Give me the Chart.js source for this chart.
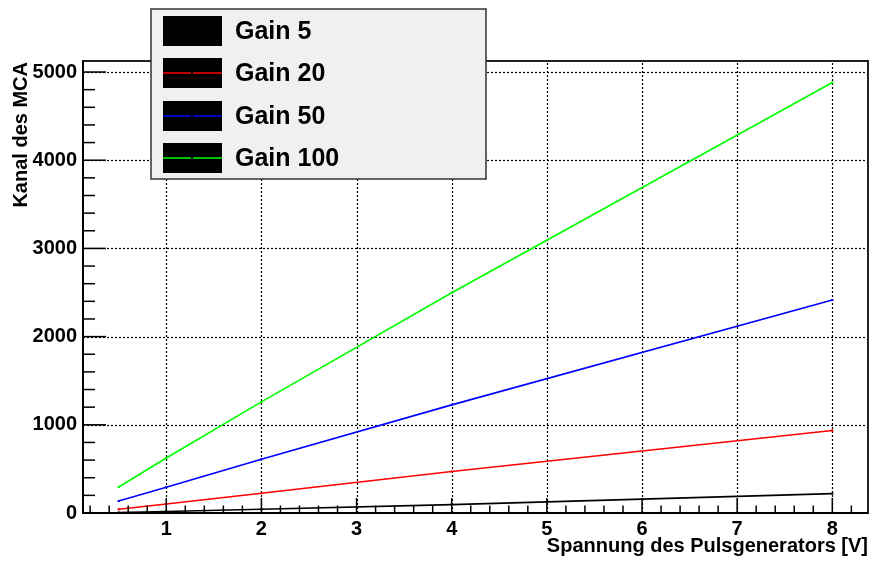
<!DOCTYPE html>
<html>
<head>
<meta charset="utf-8">
<title>Kanal des MCA vs. Spannung</title>
<script src="https://cdn.jsdelivr.net/npm/chart.js@4"></script>
<style>
  html, body { margin: 0; padding: 0; background: #fff; }
  canvas { display: block; }
</style>
</head>
<body>
<canvas id="mca" width="873" height="566"></canvas>
<script>
/* ---- data ---- */
const voltages  = [0.5, 1, 2, 4, 8];            // Spannung des Pulsgenerators [V]
const gain5     = [5, 17, 42, 95, 220];
const gain20    = [42, 102, 224, 470, 935];
const gain50    = [136, 292, 610, 1226, 2414];
const gain100   = [295, 624, 1260, 2497, 4881];

const seriesNames  = ['Gain 5', 'Gain 20', 'Gain 50', 'Gain 100'];
const seriesValues = [gain5, gain20, gain50, gain100];
const seriesColors = ['#000000', '#ff0000', '#0000ff', '#00ff00'];

const xTickValues = [1, 2, 3, 4, 5, 6, 7, 8];
const yTickValues = [0, 1000, 2000, 3000, 4000, 5000];

const X_MIN = 0.125, X_MAX = 8.375;
const Y_MIN = 0,     Y_MAX = 5125;

const FONT = '"Liberation Sans", Arial, Helvetica, sans-serif';

/* ---- ROOT-style frame, grid, ticks, titles and legend ---- */
const rootStyle = {
  id: 'rootStyle',
  beforeDraw(chart) {
    const c = chart.ctx;
    c.save();
    c.fillStyle = '#fff';
    c.fillRect(0, 0, chart.width, chart.height);
    c.restore();
  },
  beforeDatasetsDraw(chart) {
    const c = chart.ctx, a = chart.chartArea;
    const xs = chart.scales.x, ys = chart.scales.y;
    c.save();
    c.strokeStyle = '#000';
    c.lineWidth = 1.2;
    c.setLineDash([2, 2]);
    xTickValues.forEach(v => {
      const px = Math.round(xs.getPixelForValue(v)) + 0.5;
      c.beginPath(); c.moveTo(px, a.bottom); c.lineTo(px, a.top); c.stroke();
    });
    yTickValues.filter(v => v > 0).forEach(v => {
      const py = Math.round(ys.getPixelForValue(v)) + 0.5;
      c.beginPath(); c.moveTo(a.left, py); c.lineTo(a.right, py); c.stroke();
    });
    c.restore();
  },
  afterDatasetsDraw(chart) {
    const c = chart.ctx, a = chart.chartArea;
    const xs = chart.scales.x, ys = chart.scales.y;
    c.save();
    // tick marks point into the frame
    c.strokeStyle = '#000';
    c.lineWidth = 1.5;
    for (let i = 1; i <= 41; i++) {
      const v = i * 0.2;
      const px = xs.getPixelForValue(v);
      if (px <= a.left || px >= a.right) continue;
      const major = i % 5 === 0;
      c.beginPath(); c.moveTo(px, a.bottom); c.lineTo(px, a.bottom - (major ? 15 : 7.5)); c.stroke();
    }
    for (let v = 200; v < Y_MAX; v += 200) {
      const py = ys.getPixelForValue(v);
      const major = v % 1000 === 0;
      c.beginPath(); c.moveTo(a.left, py); c.lineTo(a.left + (major ? 23 : 12), py); c.stroke();
    }
    // frame
    c.strokeStyle = '#222';
    c.lineWidth = 2;
    c.strokeRect(a.left, a.top, a.right - a.left, a.bottom - a.top);
    c.strokeStyle = '#000';
    c.beginPath(); c.moveTo(a.left, a.top); c.lineTo(a.left, a.bottom); c.lineTo(a.right, a.bottom); c.stroke();

    // axis titles
    c.fillStyle = '#000';
    c.font = 'bold 20px ' + FONT;
    c.textAlign = 'right';
    c.textBaseline = 'alphabetic';
    c.fillText('Spannung des Pulsgenerators [V]', a.right, 552);
    c.translate(27, a.top + 1);
    c.rotate(-Math.PI / 2);
    c.fillText('Kanal des MCA', 0, 0);
    c.restore();
  },
  afterDraw(chart) {
    const c = chart.ctx;
    const box = { x: 151, y: 9, w: 335, h: 170 };
    c.save();
    c.fillStyle = '#f0f0f0';
    c.fillRect(box.x, box.y, box.w, box.h);
    c.strokeStyle = '#333';
    c.lineWidth = 1.5;
    c.strokeRect(box.x, box.y, box.w, box.h);

    const rowsY = [31, 73, 116, 158];
    chart.data.datasets.forEach((ds, i) => {
      const cy = rowsY[i];
      c.fillStyle = '#000';
      c.fillRect(163, cy - 15, 59, 30);
      c.strokeStyle = ds.borderColor;
      c.lineWidth = 1.5;
      c.beginPath(); c.moveTo(163, cy); c.lineTo(222, cy); c.stroke();
      c.fillStyle = '#000';
      c.fillRect(191, cy - 1, 2, 2);
      c.fillStyle = '#000';
      c.font = 'bold 25px ' + FONT;
      c.textAlign = 'left';
      c.textBaseline = 'middle';
      c.fillText(ds.label, 235, cy + 1);
    });
    c.restore();
  }
};

const datasets = seriesNames.map((name, i) => ({
  label: name,
  data: voltages.map((v, j) => ({ x: v, y: seriesValues[i][j] })),
  showLine: true,
  borderColor: seriesColors[i],
  backgroundColor: seriesColors[i],
  borderWidth: 1.6,
  pointStyle: 'rect',
  pointRadius: 1.5,
  pointBorderWidth: 0,
  tension: 0,
  clip: false
}));

const tickFont = { family: FONT, size: 20, weight: 'bold' };

new Chart(document.getElementById('mca'), {
  type: 'scatter',
  data: { datasets },
  options: {
    responsive: false,
    animation: false,
    devicePixelRatio: 1,
    layout: { padding: { top: 61, right: 5, left: 0, bottom: 0 } },
    plugins: { legend: { display: false }, tooltip: { enabled: false } },
    scales: {
      x: {
        type: 'linear', min: X_MIN, max: X_MAX,
        grid: { display: false, drawTicks: false },
        border: { display: false },
        afterBuildTicks: s => { s.ticks = xTickValues.map(v => ({ value: v })); },
        afterFit: s => { s.height = 53; },
        ticks: { font: tickFont, color: '#000', padding: 4, maxRotation: 0, autoSkip: false,
                 callback: v => String(v) }
      },
      y: {
        type: 'linear', min: Y_MIN, max: Y_MAX,
        grid: { display: false, drawTicks: false },
        border: { display: false },
        afterBuildTicks: s => { s.ticks = yTickValues.map(v => ({ value: v })); },
        afterFit: s => { s.width = 83; },
        ticks: { font: tickFont, color: '#000', padding: 6, autoSkip: false,
                 callback: v => String(v) }
      }
    }
  },
  plugins: [rootStyle]
});
</script>
</body>
</html>
